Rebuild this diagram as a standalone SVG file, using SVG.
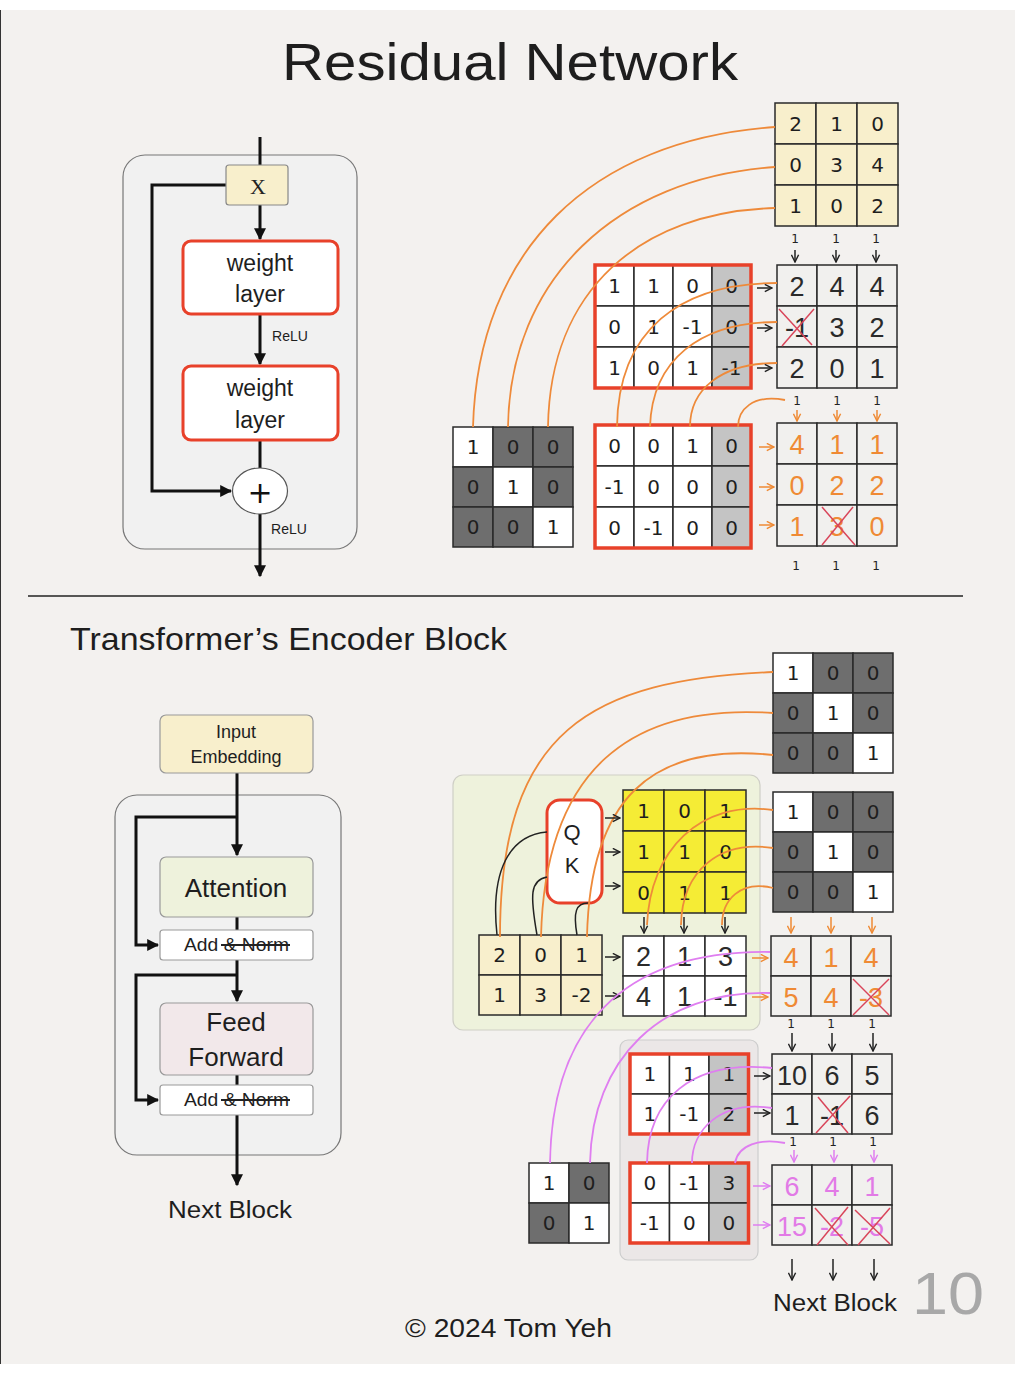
<svg xmlns="http://www.w3.org/2000/svg" width="1022" height="1374" viewBox="0 0 1022 1374">
<defs>
<style>
.bg{fill:#f3f1ef}
.cell{stroke:#2a2a2a;stroke-width:1.5}
.n{font-family:"DejaVu Sans",sans-serif;font-size:20px;text-anchor:middle;dominant-baseline:central;fill:#1e1e1e}
.h{font-family:"Liberation Sans",sans-serif;font-size:27px;text-anchor:middle;dominant-baseline:central;fill:#2a2a2a}
.ho{fill:#ef8a34}
.hp{fill:#e27ae6}
.s{font-family:"DejaVu Sans",sans-serif;font-size:12px;text-anchor:middle;fill:#222}
.lbl{font-family:"Liberation Sans",sans-serif;text-anchor:middle;fill:#1e1e1e}
.lft{font-family:"Liberation Sans",sans-serif;text-anchor:start;fill:#1e1e1e}
.blk{stroke:#111;stroke-width:3;fill:none}
.oc{stroke:#ee8a3a;stroke-width:1.8;fill:none}
.pc{stroke:#df7ef0;stroke-width:1.8;fill:none}
.kc{stroke:#222;stroke-width:1.5;fill:none}
.ar{stroke-width:1.5;fill:none}
.x{stroke:#d9455a;stroke-width:1.5}
.red{fill:none;stroke:#e8412a;stroke-width:3.5}
.wy{fill:#f8efcc}
.yy{fill:#f5ec35}
.dg{fill:#6e6e6e}
.lg{fill:#c4c4c4}
.w{fill:#fff}
.rc{fill:#f1f0ee}
</style>
<marker id="tri" viewBox="0 0 10 10" refX="9" refY="5" markerWidth="12" markerHeight="12" markerUnits="userSpaceOnUse" orient="auto"><path d="M0,0 L10,5 L0,10 z" fill="#111"/></marker>
<marker id="ok" viewBox="0 0 10 10" refX="9" refY="5" markerWidth="9" markerHeight="9" markerUnits="userSpaceOnUse" orient="auto"><path d="M1,1 L9,5 L1,9" fill="none" stroke="#222" stroke-width="1.6"/></marker>
<marker id="oo" viewBox="0 0 10 10" refX="9" refY="5" markerWidth="9" markerHeight="9" markerUnits="userSpaceOnUse" orient="auto"><path d="M1,1 L9,5 L1,9" fill="none" stroke="#ef8a34" stroke-width="1.6"/></marker>
<marker id="op" viewBox="0 0 10 10" refX="9" refY="5" markerWidth="9" markerHeight="9" markerUnits="userSpaceOnUse" orient="auto"><path d="M1,1 L9,5 L1,9" fill="none" stroke="#df7ef0" stroke-width="1.6"/></marker>
</defs>

<rect x="0" y="0" width="1022" height="1374" fill="#ffffff"/>
<rect class="bg" x="1" y="10" width="1014" height="1354"/>
<line x1="0.5" y1="10" x2="0.5" y2="1364" stroke="#333" stroke-width="1"/>

<g id="title"><text class="lbl" x="510" y="80" font-size="52" textLength="456" lengthAdjust="spacingAndGlyphs">Residual Network</text></g>

<!-- Residual block -->
<g id="res-block"><rect x="123" y="155" width="234" height="394" rx="22" fill="#f1f1f1" stroke="#777" stroke-width="1.2"/></g>
<g id="res-connectors">
<path class="blk" d="M260,137 V166"/>
<path class="blk" d="M260,205 V239" marker-end="url(#tri)"/>
<path class="blk" d="M260,314 V364" marker-end="url(#tri)"/>
<path class="blk" d="M260,440 V468"/>
<path class="blk" d="M260,514 V576" marker-end="url(#tri)"/>
<path class="blk" d="M226,185 H152 V491 H231" marker-end="url(#tri)"/>
</g>
<g id="node-x"><rect x="226" y="165" width="62" height="40" rx="3" class="wy" stroke="#888" stroke-width="1.2"/><text x="258" y="186" font-family="Liberation Serif,serif" font-size="22" text-anchor="middle" dominant-baseline="central" fill="#222">X</text></g>
<g id="node-wl1"><rect x="183" y="241" width="155" height="73" rx="8" fill="#fff" stroke="#e8412a" stroke-width="3"/><text class="lbl" x="260" y="271" font-size="23">weight</text><text class="lbl" x="260" y="302" font-size="23">layer</text></g>
<text class="lbl" x="290" y="341" font-size="14">ReLU</text>
<g id="node-wl2"><rect x="183" y="366" width="155" height="74" rx="8" fill="#fff" stroke="#e8412a" stroke-width="3"/><text class="lbl" x="260" y="396" font-size="23">weight</text><text class="lbl" x="260" y="428" font-size="23">layer</text></g>
<g id="node-plus"><ellipse cx="260" cy="491" rx="27.5" ry="23" fill="#fff" stroke="#555" stroke-width="1.2"/><text x="260" y="492" font-family="DejaVu Sans,sans-serif" font-size="30" text-anchor="middle" dominant-baseline="central" fill="#111">+</text></g>
<text class="lbl" x="289" y="534" font-size="14">ReLU</text>

<!-- Top-right matrices -->
<g id="m-input-top">
<rect class="wy cell" x="775" y="103" width="41" height="41"/><rect class="wy cell" x="816" y="103" width="41" height="41"/><rect class="wy cell" x="857" y="103" width="41" height="41"/>
<rect class="wy cell" x="775" y="144" width="41" height="41"/><rect class="wy cell" x="816" y="144" width="41" height="41"/><rect class="wy cell" x="857" y="144" width="41" height="41"/>
<rect class="wy cell" x="775" y="185" width="41" height="41"/><rect class="wy cell" x="816" y="185" width="41" height="41"/><rect class="wy cell" x="857" y="185" width="41" height="41"/>
<text class="n" x="795.5" y="123.5">2</text><text class="n" x="836.5" y="123.5">1</text><text class="n" x="877.5" y="123.5">0</text>
<text class="n" x="795.5" y="164.5">0</text><text class="n" x="836.5" y="164.5">3</text><text class="n" x="877.5" y="164.5">4</text>
<text class="n" x="795.5" y="205.5">1</text><text class="n" x="836.5" y="205.5">0</text><text class="n" x="877.5" y="205.5">2</text>
</g>
<g id="bias-top"><text class="s" x="795" y="243">1</text><text class="s" x="836" y="243">1</text><text class="s" x="876" y="243">1</text></g>

<g id="m-w1">
<rect class="w cell" x="595" y="265" width="39" height="41"/><rect class="w cell" x="634" y="265" width="39" height="41"/><rect class="w cell" x="673" y="265" width="39" height="41"/><rect class="lg cell" x="712" y="265" width="39" height="41"/>
<rect class="w cell" x="595" y="306" width="39" height="41"/><rect class="w cell" x="634" y="306" width="39" height="41"/><rect class="w cell" x="673" y="306" width="39" height="41"/><rect class="lg cell" x="712" y="306" width="39" height="41"/>
<rect class="w cell" x="595" y="347" width="39" height="41"/><rect class="w cell" x="634" y="347" width="39" height="41"/><rect class="w cell" x="673" y="347" width="39" height="41"/><rect class="lg cell" x="712" y="347" width="39" height="41"/>
<rect class="red" x="595" y="265" width="156" height="123"/>
<text class="n" x="614.5" y="285.5">1</text><text class="n" x="653.5" y="285.5">1</text><text class="n" x="692.5" y="285.5">0</text><text class="n" x="731.5" y="285.5">0</text>
<text class="n" x="614.5" y="326.5">0</text><text class="n" x="653.5" y="326.5">1</text><text class="n" x="692.5" y="326.5">-1</text><text class="n" x="731.5" y="326.5">0</text>
<text class="n" x="614.5" y="367.5">1</text><text class="n" x="653.5" y="367.5">0</text><text class="n" x="692.5" y="367.5">1</text><text class="n" x="731.5" y="367.5">-1</text>
</g>

<g id="m-r1">
<rect class="rc cell" x="777" y="265" width="40" height="41"/><rect class="rc cell" x="817" y="265" width="40" height="41"/><rect class="rc cell" x="857" y="265" width="40" height="41"/>
<rect class="rc cell" x="777" y="306" width="40" height="41"/><rect class="rc cell" x="817" y="306" width="40" height="41"/><rect class="rc cell" x="857" y="306" width="40" height="41"/>
<rect class="rc cell" x="777" y="347" width="40" height="41"/><rect class="rc cell" x="817" y="347" width="40" height="41"/><rect class="rc cell" x="857" y="347" width="40" height="41"/>
<text class="h" x="797" y="287">2</text><text class="h" x="837" y="287">4</text><text class="h" x="877" y="287">4</text>
<text class="h" x="797" y="328">-1</text><text class="h" x="837" y="328">3</text><text class="h" x="877" y="328">2</text>
<text class="h" x="797" y="369">2</text><text class="h" x="837" y="369">0</text><text class="h" x="877" y="369">1</text>
<line class="x" x1="779" y1="309" x2="812" y2="345"/><line class="x" x1="814" y1="309" x2="782" y2="346"/>
</g>
<g id="bias-mid"><text class="s" x="797" y="405">1</text><text class="s" x="837" y="405">1</text><text class="s" x="877" y="405">1</text></g>

<g id="m-id3-top">
<rect class="w cell" x="453" y="427" width="40" height="40"/><rect class="dg cell" x="493" y="427" width="40" height="40"/><rect class="dg cell" x="533" y="427" width="40" height="40"/>
<rect class="dg cell" x="453" y="467" width="40" height="40"/><rect class="w cell" x="493" y="467" width="40" height="40"/><rect class="dg cell" x="533" y="467" width="40" height="40"/>
<rect class="dg cell" x="453" y="507" width="40" height="40"/><rect class="dg cell" x="493" y="507" width="40" height="40"/><rect class="w cell" x="533" y="507" width="40" height="40"/>
<text class="n" x="473" y="447">1</text><text class="n" x="513" y="447">0</text><text class="n" x="553" y="447">0</text>
<text class="n" x="473" y="487">0</text><text class="n" x="513" y="487">1</text><text class="n" x="553" y="487">0</text>
<text class="n" x="473" y="527">0</text><text class="n" x="513" y="527">0</text><text class="n" x="553" y="527">1</text>
</g>

<g id="m-w2">
<rect class="w cell" x="595" y="425" width="39" height="41"/><rect class="w cell" x="634" y="425" width="39" height="41"/><rect class="w cell" x="673" y="425" width="39" height="41"/><rect class="lg cell" x="712" y="425" width="39" height="41"/>
<rect class="w cell" x="595" y="466" width="39" height="41"/><rect class="w cell" x="634" y="466" width="39" height="41"/><rect class="w cell" x="673" y="466" width="39" height="41"/><rect class="lg cell" x="712" y="466" width="39" height="41"/>
<rect class="w cell" x="595" y="507" width="39" height="41"/><rect class="w cell" x="634" y="507" width="39" height="41"/><rect class="w cell" x="673" y="507" width="39" height="41"/><rect class="lg cell" x="712" y="507" width="39" height="41"/>
<rect class="red" x="595" y="425" width="156" height="123"/>
<text class="n" x="614.5" y="445.5">0</text><text class="n" x="653.5" y="445.5">0</text><text class="n" x="692.5" y="445.5">1</text><text class="n" x="731.5" y="445.5">0</text>
<text class="n" x="614.5" y="486.5">-1</text><text class="n" x="653.5" y="486.5">0</text><text class="n" x="692.5" y="486.5">0</text><text class="n" x="731.5" y="486.5">0</text>
<text class="n" x="614.5" y="527.5">0</text><text class="n" x="653.5" y="527.5">-1</text><text class="n" x="692.5" y="527.5">0</text><text class="n" x="731.5" y="527.5">0</text>
</g>

<g id="m-r2">
<rect class="rc cell" x="777" y="423" width="40" height="41"/><rect class="rc cell" x="817" y="423" width="40" height="41"/><rect class="rc cell" x="857" y="423" width="40" height="41"/>
<rect class="rc cell" x="777" y="464" width="40" height="41"/><rect class="rc cell" x="817" y="464" width="40" height="41"/><rect class="rc cell" x="857" y="464" width="40" height="41"/>
<rect class="rc cell" x="777" y="505" width="40" height="41"/><rect class="rc cell" x="817" y="505" width="40" height="41"/><rect class="rc cell" x="857" y="505" width="40" height="41"/>
<text class="h ho" x="797" y="445">4</text><text class="h ho" x="837" y="445">1</text><text class="h ho" x="877" y="445">1</text>
<text class="h ho" x="797" y="486">0</text><text class="h ho" x="837" y="486">2</text><text class="h ho" x="877" y="486">2</text>
<text class="h ho" x="797" y="527">1</text><text class="h ho" x="837" y="527">3</text><text class="h ho" x="877" y="527">0</text>
<line class="x" x1="822" y1="507" x2="855" y2="545"/><line class="x" x1="853" y1="507" x2="822" y2="545"/>
</g>
<g id="bias-bot"><text class="s" x="796" y="570">1</text><text class="s" x="836" y="570">1</text><text class="s" x="876" y="570">1</text></g>

<g id="top-connectors">
<path class="oc" d="M775,127 C590,140 478,250 473,427"/>
<path class="oc" d="M775,167 C615,178 510,280 508,427"/>
<path class="oc" d="M775,208 C640,212 550,290 548,427"/>
<path class="oc" d="M777,283 C680,283 618,330 617,427"/>
<path class="oc" d="M777,322 C700,322 652,360 650,427"/>
<path class="oc" d="M777,363 C720,363 690,390 690,427"/>
<path class="oc" d="M785,400 C752,394 738,410 738,427"/>
<path class="ar" stroke="#222" d="M795,250 V262" marker-end="url(#ok)"/>
<path class="ar" stroke="#222" d="M836,250 V262" marker-end="url(#ok)"/>
<path class="ar" stroke="#222" d="M876,250 V262" marker-end="url(#ok)"/>
<path class="ar" stroke="#222" d="M757,288 H772" marker-end="url(#ok)"/>
<path class="ar" stroke="#222" d="M757,328 H772" marker-end="url(#ok)"/>
<path class="ar" stroke="#222" d="M757,368 H772" marker-end="url(#ok)"/>
<path class="ar" stroke="#ef8a34" d="M797,410 V421" marker-end="url(#oo)"/>
<path class="ar" stroke="#ef8a34" d="M837,410 V421" marker-end="url(#oo)"/>
<path class="ar" stroke="#ef8a34" d="M877,410 V421" marker-end="url(#oo)"/>
<path class="ar" stroke="#ef8a34" d="M759,447 H774" marker-end="url(#oo)"/>
<path class="ar" stroke="#ef8a34" d="M759,487 H774" marker-end="url(#oo)"/>
<path class="ar" stroke="#ef8a34" d="M759,525 H774" marker-end="url(#oo)"/>
</g>

<line x1="28" y1="596" x2="963" y2="596" stroke="#222" stroke-width="1.5"/>
<g id="subtitle"><text class="lft" x="70" y="650" font-size="32" textLength="437" lengthAdjust="spacingAndGlyphs">Transformer’s Encoder Block</text></g>

<!-- Transformer block -->
<g id="enc-block"><rect x="115" y="795" width="226" height="360" rx="22" fill="#f1f1f1" stroke="#777" stroke-width="1.2"/></g>
<g id="enc-connectors">
<path class="blk" d="M237,773 V855" marker-end="url(#tri)"/>
<path class="blk" d="M237,817 H136 V945 H158" marker-end="url(#tri)"/>
<path class="blk" d="M237,917 V930"/>
<path class="blk" d="M237,960 V1001" marker-end="url(#tri)"/>
<path class="blk" d="M237,975 H136 V1100 H158" marker-end="url(#tri)"/>
<path class="blk" d="M237,1075 V1085"/>
<path class="blk" d="M237,1115 V1185" marker-end="url(#tri)"/>
</g>
<g id="node-emb"><rect x="160" y="715" width="153" height="58" rx="6" class="wy" stroke="#999" stroke-width="1.2"/><text class="lbl" x="236" y="738" font-size="18">Input</text><text class="lbl" x="236" y="763" font-size="18">Embedding</text></g>
<g id="node-att"><rect x="160" y="857" width="153" height="60" rx="6" fill="#eef2dc" stroke="#999" stroke-width="1.2"/><text class="lbl" x="236" y="897" font-size="26">Attention</text></g>
<g id="node-an1"><rect x="160" y="930" width="153" height="30" rx="3" fill="#fff" stroke="#999" stroke-width="1.2"/><text class="lft" x="184" y="951" font-size="18" textLength="105" lengthAdjust="spacingAndGlyphs">Add &amp; Norm</text><line x1="221" y1="945" x2="290" y2="945" stroke="#222" stroke-width="1.8"/></g>
<g id="node-ff"><rect x="160" y="1003" width="153" height="72" rx="6" fill="#f2e8ea" stroke="#999" stroke-width="1.2"/><text class="lbl" x="236" y="1031" font-size="26">Feed</text><text class="lbl" x="236" y="1066" font-size="26">Forward</text></g>
<g id="node-an2"><rect x="160" y="1085" width="153" height="30" rx="3" fill="#fff" stroke="#999" stroke-width="1.2"/><text class="lft" x="184" y="1106" font-size="18" textLength="105" lengthAdjust="spacingAndGlyphs">Add &amp; Norm</text><line x1="221" y1="1100" x2="290" y2="1100" stroke="#222" stroke-width="1.8"/></g>
<g id="next1"><text class="lbl" x="230" y="1218" font-size="23" textLength="124" lengthAdjust="spacingAndGlyphs">Next Block</text></g>

<!-- Bottom-right -->
<g id="panel-att"><rect x="453" y="775" width="307" height="255" rx="10" fill="#eef2dc" stroke="#cfcfc6" stroke-width="1.2"/></g>
<g id="panel-ff"><rect x="620" y="1040" width="138" height="220" rx="8" fill="#ebe7e7" stroke="#cdcdcd" stroke-width="1.2"/></g>

<g id="m-idA">
<rect class="w cell" x="773" y="653" width="40" height="40"/><rect class="dg cell" x="813" y="653" width="40" height="40"/><rect class="dg cell" x="853" y="653" width="40" height="40"/>
<rect class="dg cell" x="773" y="693" width="40" height="40"/><rect class="w cell" x="813" y="693" width="40" height="40"/><rect class="dg cell" x="853" y="693" width="40" height="40"/>
<rect class="dg cell" x="773" y="733" width="40" height="40"/><rect class="dg cell" x="813" y="733" width="40" height="40"/><rect class="w cell" x="853" y="733" width="40" height="40"/>
<text class="n" x="793" y="673">1</text><text class="n" x="833" y="673">0</text><text class="n" x="873" y="673">0</text>
<text class="n" x="793" y="713">0</text><text class="n" x="833" y="713">1</text><text class="n" x="873" y="713">0</text>
<text class="n" x="793" y="753">0</text><text class="n" x="833" y="753">0</text><text class="n" x="873" y="753">1</text>
</g>
<g id="m-idB">
<rect class="w cell" x="773" y="792" width="40" height="40"/><rect class="dg cell" x="813" y="792" width="40" height="40"/><rect class="dg cell" x="853" y="792" width="40" height="40"/>
<rect class="dg cell" x="773" y="832" width="40" height="40"/><rect class="w cell" x="813" y="832" width="40" height="40"/><rect class="dg cell" x="853" y="832" width="40" height="40"/>
<rect class="dg cell" x="773" y="872" width="40" height="40"/><rect class="dg cell" x="813" y="872" width="40" height="40"/><rect class="w cell" x="853" y="872" width="40" height="40"/>
<text class="n" x="793" y="812">1</text><text class="n" x="833" y="812">0</text><text class="n" x="873" y="812">0</text>
<text class="n" x="793" y="852">0</text><text class="n" x="833" y="852">1</text><text class="n" x="873" y="852">0</text>
<text class="n" x="793" y="892">0</text><text class="n" x="833" y="892">0</text><text class="n" x="873" y="892">1</text>
</g>

<g id="node-qk"><rect x="547" y="800" width="55" height="103" rx="13" fill="#fff" stroke="#e8412a" stroke-width="3"/><text class="lbl" x="572" y="840" font-size="22">Q</text><text class="lbl" x="572" y="873" font-size="22">K</text></g>

<g id="m-yellow">
<rect class="yy cell" x="623" y="790" width="41" height="41"/><rect class="yy cell" x="664" y="790" width="41" height="41"/><rect class="yy cell" x="705" y="790" width="41" height="41"/>
<rect class="yy cell" x="623" y="831" width="41" height="41"/><rect class="yy cell" x="664" y="831" width="41" height="41"/><rect class="yy cell" x="705" y="831" width="41" height="41"/>
<rect class="yy cell" x="623" y="872" width="41" height="41"/><rect class="yy cell" x="664" y="872" width="41" height="41"/><rect class="yy cell" x="705" y="872" width="41" height="41"/>
<text class="n" x="643.5" y="810.5">1</text><text class="n" x="684.5" y="810.5">0</text><text class="n" x="725.5" y="810.5">1</text>
<text class="n" x="643.5" y="851.5">1</text><text class="n" x="684.5" y="851.5">1</text><text class="n" x="725.5" y="851.5">0</text>
<text class="n" x="643.5" y="892.5">0</text><text class="n" x="684.5" y="892.5">1</text><text class="n" x="725.5" y="892.5">1</text>
</g>

<g id="m-in">
<rect class="wy cell" x="479" y="935" width="41" height="40"/><rect class="wy cell" x="520" y="935" width="41" height="40"/><rect class="wy cell" x="561" y="935" width="41" height="40"/>
<rect class="wy cell" x="479" y="975" width="41" height="40"/><rect class="wy cell" x="520" y="975" width="41" height="40"/><rect class="wy cell" x="561" y="975" width="41" height="40"/>
<text class="n" x="499.5" y="955">2</text><text class="n" x="540.5" y="955">0</text><text class="n" x="581.5" y="955">1</text>
<text class="n" x="499.5" y="995">1</text><text class="n" x="540.5" y="995">3</text><text class="n" x="581.5" y="995">-2</text>
</g>

<g id="m-attout">
<rect class="w cell" x="623" y="936" width="41" height="40"/><rect class="w cell" x="664" y="936" width="41" height="40"/><rect class="w cell" x="705" y="936" width="41" height="40"/>
<rect class="w cell" x="623" y="976" width="41" height="40"/><rect class="w cell" x="664" y="976" width="41" height="40"/><rect class="w cell" x="705" y="976" width="41" height="40"/>
<text class="h" x="643.5" y="957">2</text><text class="h" x="684.5" y="957">1</text><text class="h" x="725.5" y="957">3</text>
<text class="h" x="643.5" y="997">4</text><text class="h" x="684.5" y="997">1</text><text class="h" x="725.5" y="997">-1</text>
</g>

<g id="m-res">
<rect class="rc cell" x="771" y="936" width="40" height="40"/><rect class="rc cell" x="811" y="936" width="40" height="40"/><rect class="rc cell" x="851" y="936" width="40" height="40"/>
<rect class="rc cell" x="771" y="976" width="40" height="40"/><rect class="rc cell" x="811" y="976" width="40" height="40"/><rect class="rc cell" x="851" y="976" width="40" height="40"/>
<text class="h ho" x="791" y="958">4</text><text class="h ho" x="831" y="958">1</text><text class="h ho" x="871" y="958">4</text>
<text class="h ho" x="791" y="998">5</text><text class="h ho" x="831" y="998">4</text><text class="h ho" x="871" y="998">-3</text>
<line class="x" x1="853" y1="979" x2="889" y2="1015"/><line class="x" x1="889" y1="979" x2="853" y2="1015"/>
</g>
<g id="bias-b1"><text class="s" x="791" y="1028" font-size="11">1</text><text class="s" x="831" y="1028" font-size="11">1</text><text class="s" x="872" y="1028" font-size="11">1</text></g>

<g id="m-wA">
<rect class="w cell" x="630" y="1054" width="39.5" height="40"/><rect class="w cell" x="669.5" y="1054" width="39.5" height="40"/><rect class="lg cell" x="709" y="1054" width="39.5" height="40"/>
<rect class="w cell" x="630" y="1094" width="39.5" height="40"/><rect class="w cell" x="669.5" y="1094" width="39.5" height="40"/><rect class="lg cell" x="709" y="1094" width="39.5" height="40"/>
<rect class="red" x="630" y="1054" width="118.5" height="80"/>
<text class="n" x="649.75" y="1074">1</text><text class="n" x="689.25" y="1074">1</text><text class="n" x="728.75" y="1074">1</text>
<text class="n" x="649.75" y="1114">1</text><text class="n" x="689.25" y="1114">-1</text><text class="n" x="728.75" y="1114">2</text>
</g>
<g id="m-wB">
<rect class="w cell" x="630" y="1163" width="39.5" height="40"/><rect class="w cell" x="669.5" y="1163" width="39.5" height="40"/><rect class="lg cell" x="709" y="1163" width="39.5" height="40"/>
<rect class="w cell" x="630" y="1203" width="39.5" height="40"/><rect class="w cell" x="669.5" y="1203" width="39.5" height="40"/><rect class="lg cell" x="709" y="1203" width="39.5" height="40"/>
<rect class="red" x="630" y="1163" width="118.5" height="80"/>
<text class="n" x="649.75" y="1183">0</text><text class="n" x="689.25" y="1183">-1</text><text class="n" x="728.75" y="1183">3</text>
<text class="n" x="649.75" y="1223">-1</text><text class="n" x="689.25" y="1223">0</text><text class="n" x="728.75" y="1223">0</text>
</g>

<g id="m-r3">
<rect class="rc cell" x="772" y="1054" width="40" height="40"/><rect class="rc cell" x="812" y="1054" width="40" height="40"/><rect class="rc cell" x="852" y="1054" width="40" height="40"/>
<rect class="rc cell" x="772" y="1094" width="40" height="40"/><rect class="rc cell" x="812" y="1094" width="40" height="40"/><rect class="rc cell" x="852" y="1094" width="40" height="40"/>
<text class="h" x="792" y="1076">10</text><text class="h" x="832" y="1076">6</text><text class="h" x="872" y="1076">5</text>
<text class="h" x="792" y="1116">1</text><text class="h" x="832" y="1116">-1</text><text class="h" x="872" y="1116">6</text>
<line class="x" x1="816" y1="1133" x2="850" y2="1096"/><line class="x" x1="818" y1="1097" x2="848" y2="1133"/>
</g>
<g id="bias-b2"><text class="s" x="793" y="1146" font-size="11">1</text><text class="s" x="833" y="1146" font-size="11">1</text><text class="s" x="873" y="1146" font-size="11">1</text></g>

<g id="m-r4">
<rect class="rc cell" x="772" y="1165" width="40" height="40"/><rect class="rc cell" x="812" y="1165" width="40" height="40"/><rect class="rc cell" x="852" y="1165" width="40" height="40"/>
<rect class="rc cell" x="772" y="1205" width="40" height="40"/><rect class="rc cell" x="812" y="1205" width="40" height="40"/><rect class="rc cell" x="852" y="1205" width="40" height="40"/>
<text class="h hp" x="792" y="1187">6</text><text class="h hp" x="832" y="1187">4</text><text class="h hp" x="872" y="1187">1</text>
<text class="h hp" x="792" y="1227">15</text><text class="h hp" x="832" y="1227">-2</text><text class="h hp" x="872" y="1227">-5</text>
<line class="x" x1="815" y1="1208" x2="848" y2="1245"/><line class="x" x1="848" y1="1207" x2="817" y2="1245"/>
<line class="x" x1="855" y1="1210" x2="890" y2="1244"/><line class="x" x1="890" y1="1208" x2="858" y2="1245"/>
</g>

<g id="m-id2">
<rect class="w cell" x="529" y="1163" width="40" height="40"/><rect class="dg cell" x="569" y="1163" width="40" height="40"/>
<rect class="dg cell" x="529" y="1203" width="40" height="40"/><rect class="w cell" x="569" y="1203" width="40" height="40"/>
<text class="n" x="549" y="1183">1</text><text class="n" x="589" y="1183">0</text>
<text class="n" x="549" y="1223">0</text><text class="n" x="589" y="1223">1</text>
</g>

<g id="bottom-connectors">
<path class="oc" d="M773,672 C590,680 500,730 500,937"/>
<path class="oc" d="M773,713 C630,703 545,770 541,937"/>
<path class="oc" d="M773,755 C650,742 590,800 587,937"/>
<path class="oc" d="M773,810 C700,800 650,850 647,925"/>
<path class="oc" d="M773,848 C720,840 682,870 681,925"/>
<path class="oc" d="M773,888 C740,880 722,900 722,925"/>
<path class="kc" d="M497,935 C490,870 510,835 547,832"/>
<path class="kc" d="M537,935 C530,895 530,880 547,877"/>
<path class="kc" d="M577,935 C573,912 576,903 588,903"/>
<path class="ar" stroke="#222" d="M605,818 H620" marker-end="url(#ok)"/>
<path class="ar" stroke="#222" d="M605,852 H620" marker-end="url(#ok)"/>
<path class="ar" stroke="#222" d="M605,886 H620" marker-end="url(#ok)"/>
<path class="ar" stroke="#222" d="M644,917 V933" marker-end="url(#ok)"/>
<path class="ar" stroke="#222" d="M684,917 V933" marker-end="url(#ok)"/>
<path class="ar" stroke="#222" d="M725,917 V933" marker-end="url(#ok)"/>
<path class="ar" stroke="#222" d="M605,957 H620" marker-end="url(#ok)"/>
<path class="ar" stroke="#222" d="M605,996 H620" marker-end="url(#ok)"/>
<path class="ar" stroke="#ef8a34" d="M752,958 H768" marker-end="url(#oo)"/>
<path class="ar" stroke="#ef8a34" d="M752,997 H768" marker-end="url(#oo)"/>
<path class="ar" stroke="#ef8a34" d="M791,917 V933" marker-end="url(#oo)"/>
<path class="ar" stroke="#ef8a34" d="M831,917 V933" marker-end="url(#oo)"/>
<path class="ar" stroke="#ef8a34" d="M872,917 V933" marker-end="url(#oo)"/>
<path class="ar" stroke="#222" d="M792,1033 V1051" marker-end="url(#ok)"/>
<path class="ar" stroke="#222" d="M832,1033 V1051" marker-end="url(#ok)"/>
<path class="ar" stroke="#222" d="M873,1033 V1051" marker-end="url(#ok)"/>
<path class="pc" d="M770,952 C620,950 552,1030 550,1163"/>
<path class="pc" d="M770,993 C660,990 592,1060 590,1163"/>
<path class="pc" d="M772,1068 C690,1060 648,1100 647,1163"/>
<path class="pc" d="M772,1108 C720,1100 692,1130 692,1163"/>
<path class="pc" d="M785,1143 C760,1138 738,1145 735,1163"/>
<path class="ar" stroke="#222" d="M754,1076 H770" marker-end="url(#ok)"/>
<path class="ar" stroke="#222" d="M754,1113 H770" marker-end="url(#ok)"/>
<path class="ar" stroke="#df7ef0" d="M794,1150 V1162" marker-end="url(#op)"/>
<path class="ar" stroke="#df7ef0" d="M834,1150 V1162" marker-end="url(#op)"/>
<path class="ar" stroke="#df7ef0" d="M874,1150 V1162" marker-end="url(#op)"/>
<path class="ar" stroke="#df7ef0" d="M753,1186 H770" marker-end="url(#op)"/>
<path class="ar" stroke="#df7ef0" d="M753,1225 H770" marker-end="url(#op)"/>
<path class="ar" stroke="#222" d="M792,1259 V1280" marker-end="url(#ok)"/>
<path class="ar" stroke="#222" d="M833,1259 V1280" marker-end="url(#ok)"/>
<path class="ar" stroke="#222" d="M874,1259 V1280" marker-end="url(#ok)"/>
</g>

<g id="next2"><text class="lbl" x="835" y="1311" font-size="23" textLength="124" lengthAdjust="spacingAndGlyphs">Next Block</text></g>
<g id="page"><text x="948" y="1314" font-family="Liberation Sans,sans-serif" font-size="60" text-anchor="middle" fill="#a8a8a8" textLength="72" lengthAdjust="spacingAndGlyphs">10</text></g>
<g id="copyright"><text x="405" y="1337" font-family="Liberation Sans,sans-serif" font-size="25" fill="#1e1e1e" textLength="207" lengthAdjust="spacingAndGlyphs">©  2024 Tom Yeh</text></g>
</svg>
